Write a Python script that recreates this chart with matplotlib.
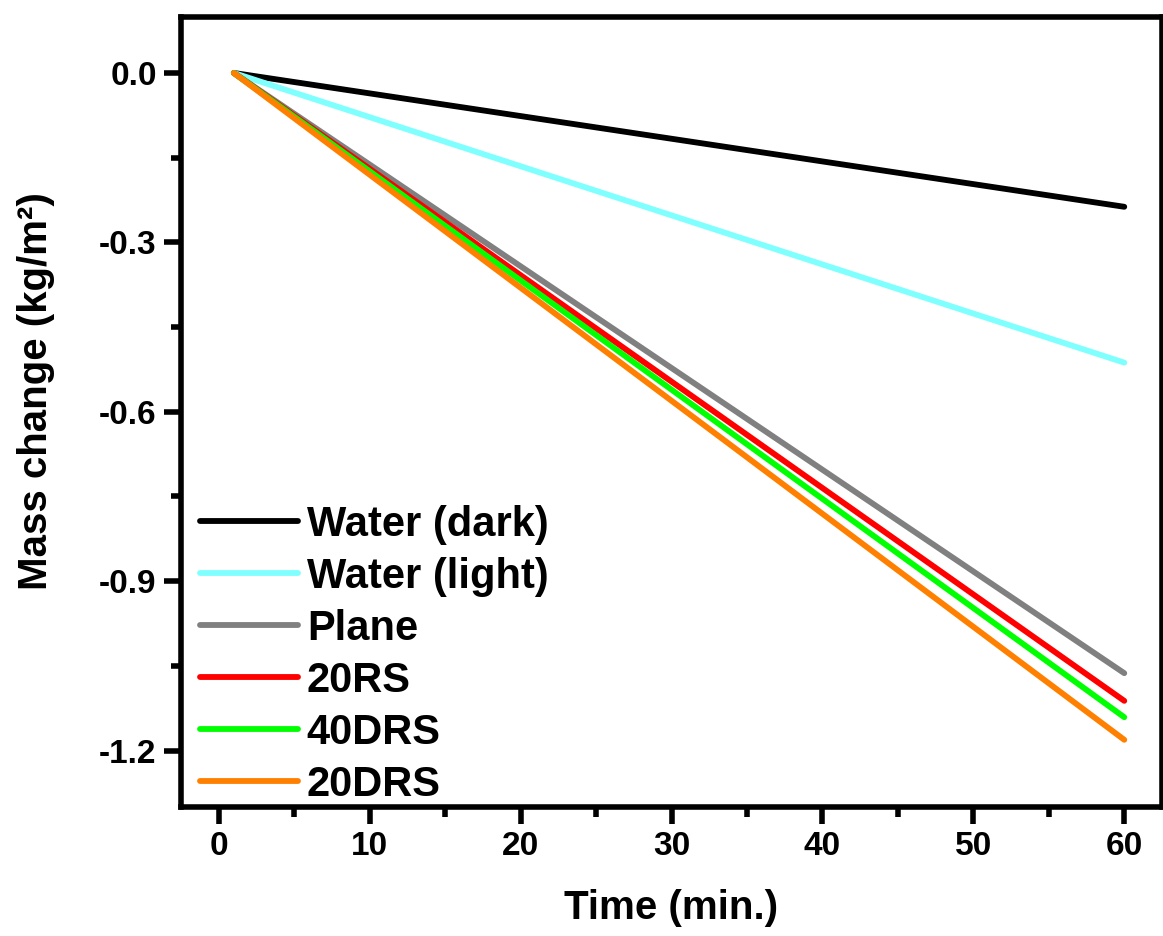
import numpy as np
from matplotlib import pyplot as plt
from matplotlib.ticker import MultipleLocator

# Mass change over time, start (t = 1 min) and end (t = 60 min) of each run
time = [1, 60]
water_dark = [0.0, -0.237]
water_light = [0.0, -0.513]
plane = [0.0, -1.063]
rs20 = [0.0, -1.112]
drs40 = [0.0, -1.141]
drs20 = [0.0, -1.181]

labels = ['Water (dark)', 'Water (light)', 'Plane', '20RS', '40DRS', '20DRS']
colors = ['#000000', '#80FFFF', '#808080', '#FF0000', '#00FF00', '#FF8000']

plt.rcParams['font.family'] = ['Liberation Sans', 'DejaVu Sans']
plt.rcParams['font.weight'] = 'bold'

fig = plt.figure(figsize=(11.63, 9.36), dpi=100)
ax = fig.add_axes([181 / 1163, 1 - 807 / 936, (1162 - 181) / 1163, (807 - 16.5) / 936])

series = [water_dark, water_light, plane, rs20, drs40, drs20]
for values, label, color in zip(series, labels, colors):
    ax.plot(time, values, color=color, lw=4.2, label=label, solid_capstyle='round')

ax.set_xlim(-2.5, 62.5)
ax.set_ylim(-1.3, 0.1)
ax.xaxis.set_major_locator(MultipleLocator(10))
ax.xaxis.set_minor_locator(MultipleLocator(5))
ax.yaxis.set_major_locator(MultipleLocator(0.3))
ax.yaxis.set_minor_locator(MultipleLocator(0.15))
ax.yaxis.set_major_formatter(plt.FuncFormatter(lambda v, p: f'{v:.1f}'))

for side in ax.spines.values():
    side.set_linewidth(4)
ax.tick_params(which='major', direction='out', length=12.5, width=4, labelsize=24, pad=5)
ax.tick_params(which='minor', direction='out', length=7, width=4)
ax.tick_params(top=False, right=False, which='both')

ax.set_xlabel('Time (min.)', fontsize=29, fontweight='bold', labelpad=19)
ax.set_ylabel('Mass change (kg/m²)', fontsize=29, fontweight='bold')
ax.yaxis.set_label_coords(-0.128, 0.526)

leg = ax.legend(loc='lower left', bbox_to_anchor=(0.017, 0.0), frameon=False,
                prop={'size': 30, 'weight': 'bold'},
                handlelength=2.35, handletextpad=0.22, labelspacing=0.29,
                borderpad=0.05, borderaxespad=0)

fig.savefig('out.png', dpi=100)
